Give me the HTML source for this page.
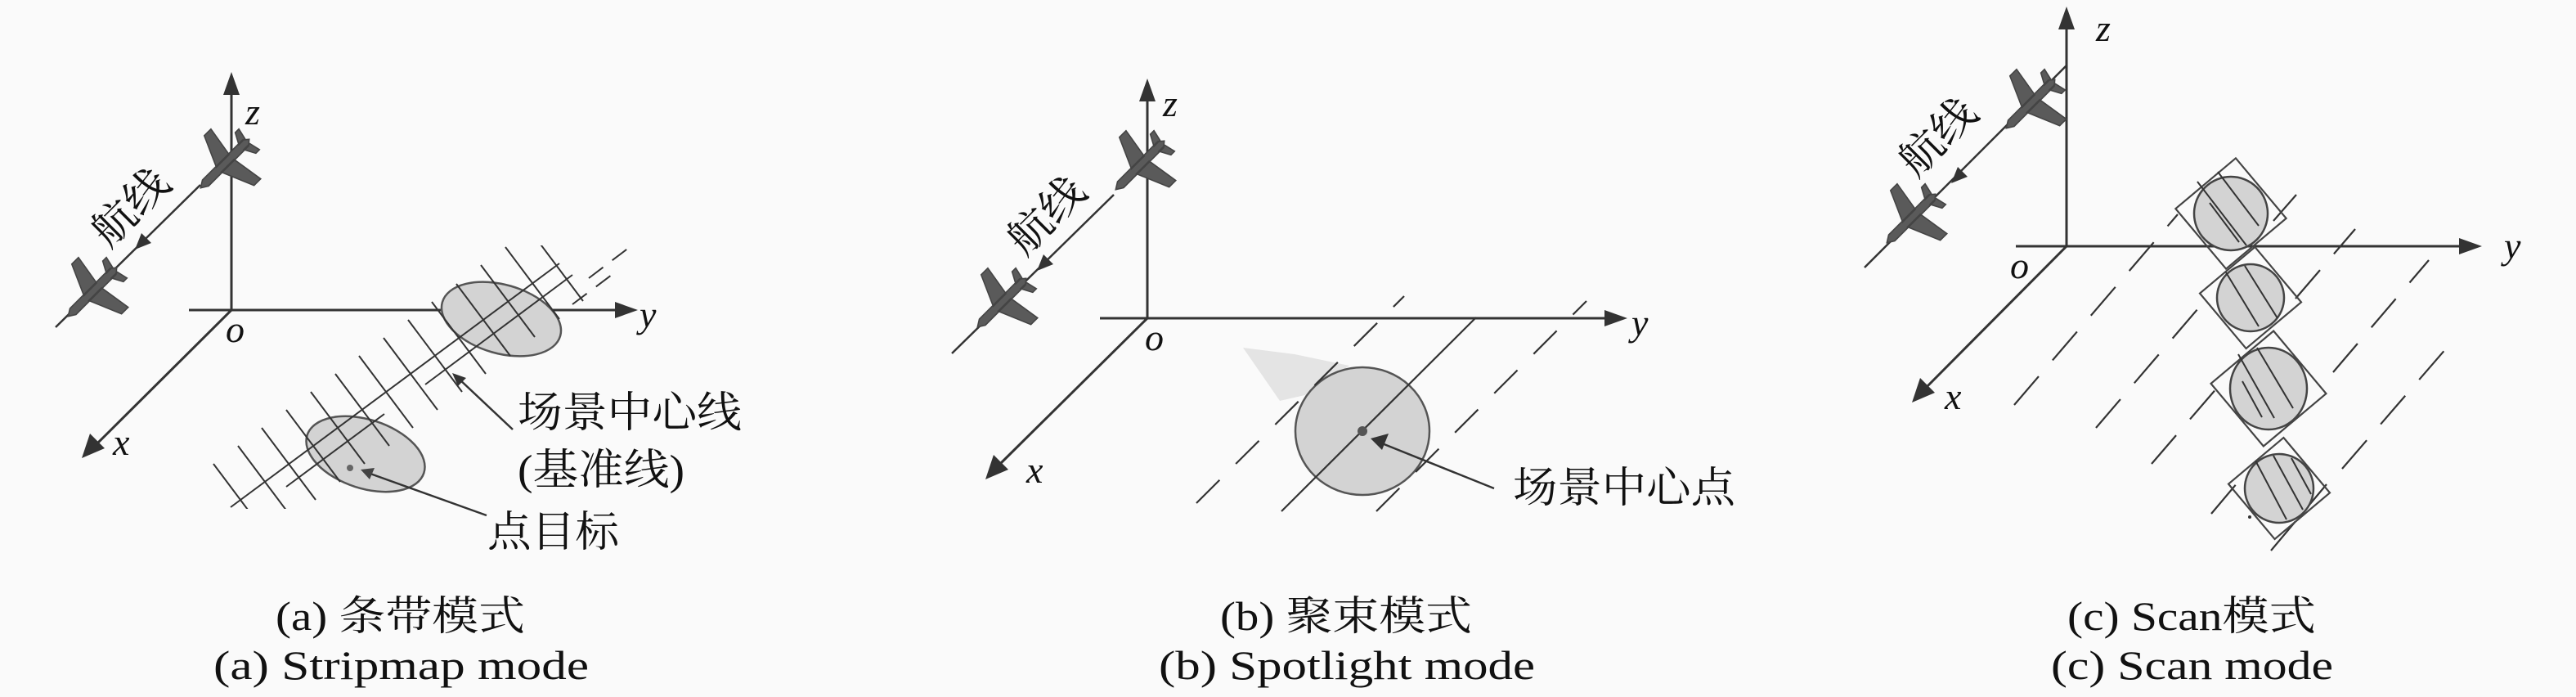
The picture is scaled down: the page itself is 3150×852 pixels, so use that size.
<!DOCTYPE html>
<html><head><meta charset="utf-8"><style>
html,body{margin:0;padding:0;background:#fafafa;}
svg{display:block;}
.t{font-family:"Liberation Serif","Noto Serif CJK SC",serif;fill:#111;}
.i{font-family:"Liberation Serif",serif;font-style:italic;fill:#111;font-size:46px;}
</style></head><body>
<svg width="3150" height="852" viewBox="0 0 3150 852" xmlns="http://www.w3.org/2000/svg">
<defs>
<g id="plane">
<path d="M40,0 L32,-5 L-34,-5 L-40,0 L-34,5 L32,5 Z M10,-4 L-6,-42 L-17,-42 L-11,-4 Z M10,4 L-6,40 L-17,40 L-11,4 Z M-27,-4 L-34,-17 L-40,-17 L-37,-4 Z M-27,4 L-34,17 L-40,17 L-37,4 Z" fill="#5a5a5a" stroke="#444" stroke-width="1.5"/>
</g>
<clipPath id="ca"><rect x="0" y="300" width="1000" height="322"/></clipPath>
</defs>
<rect width="3150" height="852" fill="#fafafa"/>

<!-- ========== Panel A ========== -->
<g stroke="#333" stroke-width="3" fill="none">
<line x1="283" y1="379" x2="283" y2="110"/>
<line x1="231" y1="379" x2="755" y2="379"/>
<line x1="283" y1="379" x2="118" y2="543"/>
</g>
<polygon points="283,88 273,116 293,116" fill="#333"/>
<polygon points="780,379 752,369 752,389" fill="#333"/>
<polygon points="100,560 110,530 128,548" fill="#333"/>
<text class="i" x="300" y="152">z</text>
<text class="i" x="782" y="400">y</text>
<text class="i" x="276" y="418">o</text>
<text class="i" x="138" y="556">x</text>
<line x1="68" y1="400" x2="245" y2="226" stroke="#333" stroke-width="2.5"/>
<polygon points="165,305 185,297 173,285" fill="#333"/>
<use href="#plane" transform="translate(275,200) rotate(135) scale(1.05)"/>
<use href="#plane" transform="translate(113,357) rotate(135) scale(1.05)"/>
<text class="t" font-size="52" transform="translate(172,266) rotate(-45)" text-anchor="middle" textLength="110" lengthAdjust="spacingAndGlyphs">航线</text>
<ellipse cx="613" cy="390" rx="75" ry="42" transform="rotate(16 613 390)" fill="#d3d3d3" stroke="#555" stroke-width="2.5"/>
<ellipse cx="447" cy="555" rx="75" ry="42" transform="rotate(18 447 555)" fill="#d3d3d3" stroke="#555" stroke-width="2.5"/>
<g clip-path="url(#ca)" stroke="#333" stroke-width="2" fill="none">
<path d="M282,620 L684,322"/>
<path d="M520,470 L700,336 M350,595 L470,506"/>
<path d="M261,567 l66,88 M291,545 l66,88 M320,523 l66,88 M350,501 l66,88 M380,479 l66,88 M410,457 l66,88 M439,435 l66,88 M469,413 l66,88 M499,391 l66,88 M528,369 l66,88 M558,347 l66,88 M588,324 l66,88 M618,302 l66,88 M647,280 l66,88"/>
<path d="M720,340 L770,302 M700,372 L752,333" stroke-dasharray="22 14"/>
</g>
<circle cx="428" cy="572" r="4" fill="#666"/>
<line x1="595" y1="630" x2="450" y2="578" stroke="#333" stroke-width="2.5"/>
<polygon points="441,574 458,572 452,586" fill="#444"/>
<line x1="627" y1="525" x2="560" y2="462" stroke="#333" stroke-width="2.5"/>
<polygon points="553,456 570,462 560,472" fill="#333"/>
<text class="t" font-size="52" x="633" y="522" textLength="274" lengthAdjust="spacingAndGlyphs">场景中心线</text>
<text class="t" font-size="52" x="633" y="592" textLength="204" lengthAdjust="spacingAndGlyphs">(基准线)</text>
<text class="t" font-size="52" x="596" y="668" textLength="161" lengthAdjust="spacingAndGlyphs">点目标</text>
<text class="t" font-size="50" x="337" y="770" textLength="305" lengthAdjust="spacingAndGlyphs">(a) 条带模式</text>
<text class="t" font-size="50" x="261" y="830" textLength="459" lengthAdjust="spacingAndGlyphs">(a) Stripmap mode</text>

<!-- ========== Panel B ========== -->
<polygon points="1520,425 1583,433 1650,447 1600,482 1565,490" fill="#e4e4e4"/>
<g stroke="#333" stroke-width="3" fill="none">
<line x1="1403" y1="389" x2="1403" y2="118"/>
<line x1="1345" y1="389" x2="1965" y2="389"/>
<line x1="1403" y1="389" x2="1222" y2="568"/>
</g>
<polygon points="1403,96 1393,124 1413,124" fill="#333"/>
<polygon points="1990,389 1962,379 1962,399" fill="#333"/>
<polygon points="1205,586 1215,556 1233,574" fill="#333"/>
<text class="i" x="1422" y="142">z</text>
<text class="i" x="1995" y="410">y</text>
<text class="i" x="1400" y="428">o</text>
<text class="i" x="1255" y="590">x</text>
<line x1="1164" y1="432" x2="1362" y2="238" stroke="#333" stroke-width="2.5"/>
<polygon points="1268,331 1288,323 1276,311" fill="#333"/>
<use href="#plane" transform="translate(1394,202) rotate(135) scale(1.05)"/>
<use href="#plane" transform="translate(1225,370) rotate(135) scale(1.05)"/>
<text class="t" font-size="52" transform="translate(1292,276) rotate(-45)" text-anchor="middle" textLength="110" lengthAdjust="spacingAndGlyphs">航线</text>
<ellipse cx="1666" cy="527" rx="82" ry="78" fill="#d3d3d3" stroke="#555" stroke-width="2.5"/>
<g stroke="#333" stroke-width="2.2" fill="none">
<line x1="1567" y1="625" x2="1805" y2="388"/>
<line x1="1463" y1="615" x2="1717" y2="362" stroke-dasharray="40 28"/>
<line x1="1683" y1="625" x2="1940" y2="368" stroke-dasharray="40 28"/>
</g>
<circle cx="1666" cy="527" r="6" fill="#555"/>
<line x1="1827" y1="597" x2="1685" y2="540" stroke="#333" stroke-width="2.5"/>
<polygon points="1676,536 1698,530 1690,550" fill="#333"/>
<text class="t" font-size="52" x="1850" y="614" textLength="272" lengthAdjust="spacingAndGlyphs">场景中心点</text>
<text class="t" font-size="50" x="1492" y="770" textLength="308" lengthAdjust="spacingAndGlyphs">(b) 聚束模式</text>
<text class="t" font-size="50" x="1417" y="830" textLength="460" lengthAdjust="spacingAndGlyphs">(b) Spotlight mode</text>

<!-- ========== Panel C ========== -->
<g stroke="#333" stroke-width="3" fill="none">
<line x1="2527" y1="301" x2="2527" y2="30"/>
<line x1="2465" y1="301" x2="3010" y2="301"/>
<line x1="2527" y1="301" x2="2355" y2="474"/>
</g>
<polygon points="2527,8 2517,36 2537,36" fill="#333"/>
<polygon points="3035,301 3007,291 3007,311" fill="#333"/>
<polygon points="2338,492 2348,462 2366,480" fill="#333"/>
<text class="i" x="2563" y="50">z</text>
<text class="i" x="3062" y="316">y</text>
<text class="i" x="2458" y="340">o</text>
<text class="i" x="2378" y="500">x</text>
<line x1="2280" y1="327" x2="2527" y2="80" stroke="#333" stroke-width="2.5"/>
<polygon points="2386,224 2406,216 2394,204" fill="#333"/>
<use href="#plane" transform="translate(2483,127) rotate(135) scale(1.05)"/>
<use href="#plane" transform="translate(2337,267) rotate(135) scale(1.05)"/>
<text class="t" font-size="52" transform="translate(2382,180) rotate(-45)" text-anchor="middle" textLength="110" lengthAdjust="spacingAndGlyphs">航线</text>
<g stroke="#333" stroke-width="2.2" fill="none" stroke-dasharray="46 26">
<line x1="2463" y1="495" x2="2663" y2="262"/>
<line x1="2563" y1="523" x2="2700" y2="363"/>
<line x1="2631" y1="567" x2="2712" y2="473"/>
<line x1="2704" y1="628" x2="2747" y2="577"/>
<line x1="2777" y1="673" x2="2845" y2="592"/>
<line x1="2864" y1="573" x2="3005" y2="410"/>
<line x1="2853" y1="455" x2="2970" y2="318"/>
<line x1="2807" y1="365" x2="2880" y2="280"/>
<line x1="2780" y1="270" x2="2808" y2="238"/>
</g>
<g stroke="#444" stroke-width="2.2">
<rect x="2680" y="213" width="96" height="96" transform="rotate(-40 2728 261)" fill="none"/>
<rect x="2708" y="320" width="88" height="88" transform="rotate(-40 2752 364)" fill="none"/>
<rect x="2724" y="425" width="100" height="100" transform="rotate(-40 2774 475)" fill="none"/>
<rect x="2743" y="553" width="88" height="88" transform="rotate(-40 2787 597)" fill="none"/>
<circle cx="2728" cy="261" r="45" fill="#d3d3d3" stroke-width="2.5"/>
<circle cx="2752" cy="364" r="41" fill="#d3d3d3" stroke-width="2.5"/>
<ellipse cx="2774" cy="475" rx="47" ry="50" fill="#d3d3d3" stroke-width="2.5"/>
<circle cx="2787" cy="597" r="42" fill="#d3d3d3" stroke-width="2.5"/>
</g>
<g stroke="#333" stroke-width="2" fill="none">
<path d="M2687,222 l60,78 M2712,210 l50,66 M2702,248 l36,48"/>
<path d="M2722,333 l40,66 M2745,325 l40,64"/>
<path d="M2737,433 l44,78 M2760,425 l44,74 M2742,466 l24,44"/>
<path d="M2758,563 l38,72 M2780,557 l36,66 M2802,560 l24,44"/>
</g>
<circle cx="2751" cy="632" r="2" fill="#333"/>
<text class="t" font-size="50" x="2528" y="770" textLength="304" lengthAdjust="spacingAndGlyphs">(c) Scan模式</text>
<text class="t" font-size="50" x="2508" y="830" textLength="345" lengthAdjust="spacingAndGlyphs">(c) Scan mode</text>
</svg>
</body></html>
